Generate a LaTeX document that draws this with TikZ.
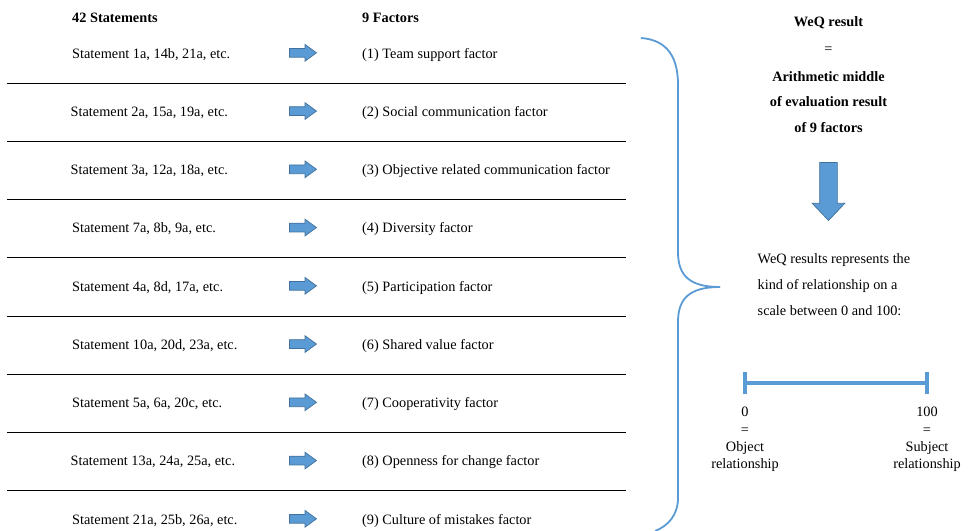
\documentclass[tikz,border=0pt]{standalone}
\usepackage{fontspec}
\setmainfont{Liberation Serif}
\usetikzlibrary{shapes.arrows}
\definecolor{arrfill}{HTML}{5B9BD5}
\definecolor{arrline}{HTML}{41719C}
\definecolor{bracecol}{HTML}{5B9BD5}
\begin{document}
\begin{tikzpicture}[x=1pt,y=-1pt,
  txt/.style={font=\fontsize{14.3}{17}\selectfont, inner sep=0pt, anchor=base west},
  ctxt/.style={font=\fontsize{14.3}{17}\selectfont, inner sep=0pt, anchor=base},
  btxt/.style={font=\fontsize{14.3}{17}\selectfont\bfseries, inner sep=0pt, anchor=base},
  sepline/.style={line width=1pt, black},
  rarrow/.style={single arrow, fill=arrfill, draw=arrline, line width=0.7pt,
    inner sep=4pt, minimum width=0pt, single arrow head extend=4pt,
    minimum height=27pt, single arrow tip angle=72, outer sep=0pt, anchor=tail},
  darrow/.style={single arrow, fill=arrfill, draw=arrline, line width=0.7pt,
    inner sep=8.5pt, minimum width=0pt, single arrow head extend=7.5pt,
    minimum height=58pt, single arrow tip angle=87, rotate=-90, outer sep=0pt, anchor=tail},
  bracepath/.style={draw=bracecol, line width=1.8pt}
]
\useasboundingbox (0,0) rectangle (968,530);

% headers
\node[btxt, anchor=base west] (h1) at (72,22.5) {42 Statements};
\node[btxt, anchor=base west] (h2) at (362,22.5) {9 Factors};

% rows
\foreach \i/\s/\f/\sx in {
  1/{Statement 1a, 14b, 21a, etc.}/{(1) Team support factor}/72,
  2/{Statement 2a, 15a, 19a, etc.}/{(2) Social communication factor}/70.5,
  3/{Statement 3a, 12a, 18a, etc.}/{(3) Objective related communication factor}/70.5,
  4/{Statement 7a, 8b, 9a, etc.}/{(4) Diversity factor}/72,
  5/{Statement 4a, 8d, 17a, etc.}/{(5) Participation factor}/72,
  6/{Statement 10a, 20d, 23a, etc.}/{(6) Shared value factor}/72,
  7/{Statement 5a, 6a, 20c, etc.}/{(7) Cooperativity factor}/72,
  8/{Statement 13a, 24a, 25a, etc.}/{(8) Openness for change factor}/70.5,
  9/{Statement 21a, 25b, 26a, etc.}/{(9) Culture of mistakes factor}/72}{
  \pgfmathsetmacro{\yb}{58+(\i-1)*58.25}
  \node[txt] (s\i) at (\sx,\yb) {\s};
  \node[txt] (f\i) at (362,\yb) {\f};
  \node[rarrow] (a\i) at (289.5,\yb-5.2) {};
}
\foreach \i in {1,...,8}{
  \pgfmathsetmacro{\yl}{83+(\i-1)*58.25}
  \coordinate (l\i a) at (7,\yl);
  \coordinate (l\i b) at (626,\yl);
  \draw[sepline] (l\i a) -- (l\i b);
}

% brace
\coordinate (bt) at (641,38);
\coordinate (bm) at (720,287);
\coordinate (bb) at (655,531);
\draw[bracepath] (bt) .. controls (668,40) and (678,58) .. (678,85)
  -- (678,252) .. controls (678,276) and (690,287) .. (bm);
\draw[bracepath] (bm) .. controls (690,287) and (678,298) .. (678,322)
  -- (678,498) .. controls (678,515) and (668,526) .. (bb);

% right side
\node[btxt] (r1) at (828.5,27) {WeQ result};
\node[ctxt] (r2) at (828.5,53.5) {=};
\node[btxt] (r3) at (828.5,81) {Arithmetic middle};
\node[btxt] (r4) at (828.5,106.5) {of evaluation result};
\node[btxt] (r5) at (828.5,132) {of 9 factors};

\node[darrow] (da) at (828.5,162.5) {};

\node[txt] (w1) at (757.5,263) {WeQ results represents the};
\node[txt] (w2) at (757.5,289.5) {kind of relationship on a};
\node[txt] (w3) at (757.5,315) {scale between 0 and 100:};

% scale
\coordinate (sa) at (745,383);
\coordinate (sb) at (927,383);
\draw[draw=arrfill, line width=3.5pt] (sa) -- (sb);
\draw[draw=arrfill, line width=3.5pt] ([yshift=-11pt]sa) -- ([yshift=11pt]sa);
\draw[draw=arrfill, line width=3.5pt] ([yshift=-11pt]sb) -- ([yshift=11pt]sb);

\node[ctxt] (z1) at (745,416.5) {0};
\node[ctxt] (z2) at (745,434) {=};
\node[ctxt] (z3) at (745,451) {Object};
\node[ctxt] (z4) at (745,468.5) {relationship};
\node[ctxt] (o1) at (927,416.5) {100};
\node[ctxt] (o2) at (927,434) {=};
\node[ctxt] (o3) at (927,451) {Subject};
\node[ctxt] (o4) at (927,468.5) {relationship};
\end{tikzpicture}
\end{document}
